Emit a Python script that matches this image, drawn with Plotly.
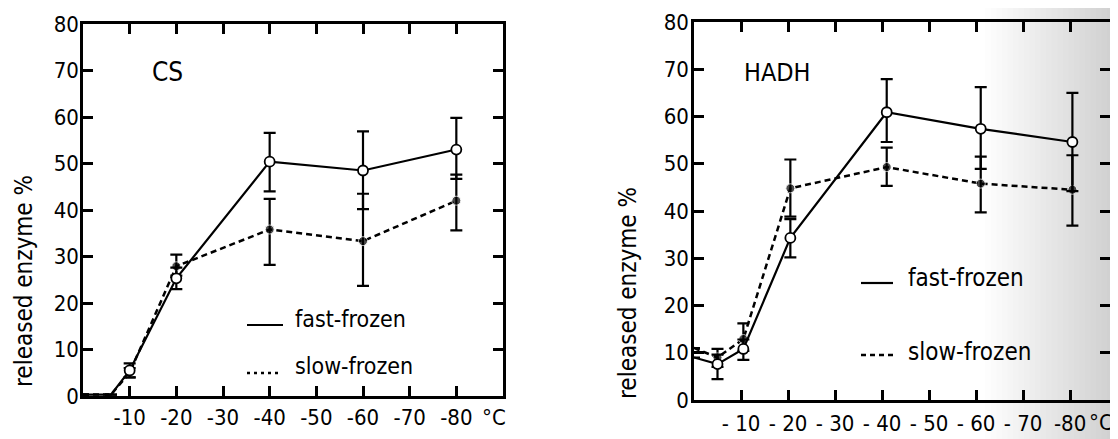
import plotly.graph_objects as go

# ---------------- data ----------------
cs_temp = [0, -6, -10, -20, -40, -60, -80]
cs_fast = [0.3, 0.3, 5.5, 25.3, 50.4, 48.5, 53.0]
cs_fast_plus = [None, None, 1.5, 2.3, 6.2, 8.4, 6.8]
cs_fast_minus = [None, None, 1.5, 2.3, 6.4, 8.3, 6.3]
cs_slow = [0.3, 0.3, 5.0, 27.9, 35.8, 33.3, 42.0]
cs_slow_plus = [None, None, 1.0, 2.5, 6.6, 10.2, 5.6]
cs_slow_minus = [None, None, 1.0, 2.0, 7.6, 9.6, 6.4]

hadh_temp = [0, -5, -10.5, -20.5, -41, -61, -80.5]
hadh_fast = [9.0, 7.6, 10.8, 34.3, 60.9, 57.4, 54.6]
hadh_fast_plus = [None, 2.0, 2.0, 4.0, 7.0, 8.8, 10.4]
hadh_fast_minus = [None, 3.2, 2.3, 4.1, 6.3, 8.5, 10.4]
hadh_slow = [11.0, 9.0, 12.9, 44.8, 49.3, 45.8, 44.5]
hadh_slow_plus = [None, 1.8, 3.3, 6.1, 4.1, 5.7, 7.3]
hadh_slow_minus = [None, 2.0, 2.5, 6.0, 4.0, 6.1, 7.6]

x_tickvals = [-10, -20, -30, -40, -50, -60, -70, -80]
cs_xlabels = ["-10", "-20", "-30", "-40", "-50", "-60", "-70", "-80"]
hadh_xlabels = ["- 10", "- 20", "- 30", "- 40", "- 50", "- 60", "- 70", "-80"]
y_tickvals = [0, 10, 20, 30, 40, 50, 60, 70, 80]
y_labels = ["0", "10", "20", "30", "40", "50", "60", "70", "80"]

series_names = ["fast-frozen", "slow-frozen"]
panel_names = ["CS", "HADH"]
y_title = "released enzyme %"
unit = "°C"

# ---------------- layout helpers ----------------
OFF = 8                      # page margin of the html body
W, H = 1118 - OFF, 439 - OFF
def fx(p):
    return (p - OFF) / W
def fy(p):
    return 1 - (p - OFF) / H

FONT = "DejaVu Sans Condensed, Liberation Sans Narrow, Roboto, sans-serif"
SIZES = [0, 0, 10, 10, 10, 10, 10]
SIZES_H = [0, 10, 10, 10, 10, 10, 10]

fig = go.Figure()

def add_pair(temp, fast, fp, fm, slow, sp, sm, xa, ya, sizes):
    fig.add_trace(go.Scatter(
        x=temp, y=slow, mode="lines+markers", name=series_names[1],
        xaxis=xa, yaxis=ya, showlegend=False, cliponaxis=False,
        line=dict(color="black", width=2.5, dash="6px,4px"),
        marker=dict(color="black", size=[s - 1 if s else 0 for s in sizes]),
        error_y=dict(type="data", symmetric=False, array=sp, arrayminus=sm,
                     color="black", thickness=2.2, width=6),
    ))
    fig.add_trace(go.Scatter(
        x=temp, y=fast, mode="lines+markers", name=series_names[0],
        xaxis=xa, yaxis=ya, showlegend=False, cliponaxis=False,
        line=dict(color="black", width=2.2),
        marker=dict(color="white", size=sizes, opacity=1,
                    line=dict(color="black", width=1.8)),
        error_y=dict(type="data", symmetric=False, array=fp, arrayminus=fm,
                     color="black", thickness=2.2, width=6),
    ))

add_pair(cs_temp, cs_fast, cs_fast_plus, cs_fast_minus,
         cs_slow, cs_slow_plus, cs_slow_minus, "x", "y", SIZES)
add_pair(hadh_temp, hadh_fast, hadh_fast_plus, hadh_fast_minus,
         hadh_slow, hadh_slow_plus, hadh_slow_minus, "x2", "y2", SIZES_H)

axis_common = dict(showline=True, linecolor="black", linewidth=2.5, mirror="ticks",
                   ticks="inside", ticklen=10, tickwidth=2.5, tickcolor="black",
                   showgrid=False, zeroline=False, automargin=False,
                   tickfont=dict(family=FONT, size=22, color="black"))

fig.update_layout(
    width=W, height=H, margin=dict(l=0, r=0, t=0, b=0, autoexpand=False),
    paper_bgcolor="white", plot_bgcolor="rgba(0,0,0,0)",
    xaxis=dict(domain=[fx(83), fx(503)], range=[0, -90], anchor="y",
               tickvals=x_tickvals, ticktext=cs_xlabels, ticklabelstandoff=0,
               **axis_common),
    yaxis=dict(domain=[fy(396), fy(24)], range=[0, 80], anchor="x",
               tickvals=y_tickvals, ticktext=y_labels, ticklabelstandoff=-3,
               **axis_common),
    xaxis2=dict(domain=[fx(694), fx(1110)], range=[0, -88.5], anchor="y2",
                tickvals=x_tickvals, ticktext=hadh_xlabels, ticklabelstandoff=2,
                **axis_common),
    yaxis2=dict(domain=[fy(400), fy(22)], range=[0, 80], anchor="x2",
                tickvals=y_tickvals, ticktext=y_labels, ticklabelstandoff=-2,
                **axis_common),
)

ann = []
def text(x, y, s, size, xanchor="center", angle=0):
    ann.append(dict(x=fx(x), y=fy(y), xref="paper", yref="paper", text=s,
                    showarrow=False, xanchor=xanchor, yanchor="middle",
                    textangle=angle, font=dict(family=FONT, size=size, color="black")))

text(167, 72, panel_names[0], 26)
text(777, 72, panel_names[1], 25)
text(24, 281, y_title, 24, angle=-90)
text(628, 293, y_title, 24, angle=-90)
text(494, 417, unit, 22)
text(1101, 422, unit, 22)
text(293, 319, series_names[0], 23, xanchor="left")
text(293, 366, series_names[1], 23, xanchor="left")
text(906, 278, series_names[0], 24, xanchor="left")
text(906, 352, series_names[1], 24, xanchor="left")

shapes = []
def seg(x0, x1, y, dash):
    shapes.append(dict(type="line", xref="paper", yref="paper",
                       x0=fx(x0), x1=fx(x1), y0=fy(y), y1=fy(y),
                       line=dict(color="black", width=2.5 if dash != "solid" else 2.2, dash=dash)))

seg(247, 283, 325, "solid")
seg(247, 281, 373, "3px,4px")
seg(861, 893, 283, "solid")
seg(861, 893, 355, "5px,4px")

# page-edge shading of the scan (gradual)
steps = 24
for i in range(steps):
    x0 = 985 + i * (1118 - 985) / steps
    shapes.append(dict(type="rect", xref="paper", yref="paper", x0=fx(x0), x1=1.02,
                       y0=-0.05, y1=1.05, fillcolor="rgba(0,0,0,0.007)", line=dict(width=0),
                       layer="below"))
shapes.append(dict(type="rect", xref="paper", yref="paper", x0=fx(1112), x1=1.02,
                   y0=-0.05, y1=1.05, fillcolor="rgba(0,0,0,0.12)", line=dict(width=0),
                   layer="below"))

fig.update_layout(annotations=ann, shapes=shapes)
fig.write_html("out.html")
